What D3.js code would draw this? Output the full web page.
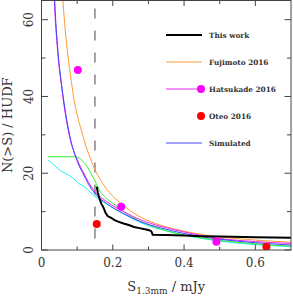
<!DOCTYPE html>
<html lang="en">
<head>
<meta charset="UTF-8">
<title>N(>S) / HUDF</title>
<script src="https://cdn.jsdelivr.net/npm/d3@7"></script>
<style>
  body { margin: 0; background: #fff; }
  svg text { font-family: "DejaVu Serif", serif; fill: #333; }
</style>
</head>
<body>
<svg id="chart" width="293" height="300"></svg>
<script>
// S in mJy, N(>S) per HUDF
var workS = [0.155, 0.158, 0.162, 0.165, 0.168, 0.172, 0.176, 0.18, 0.185, 0.19, 0.197, 0.205, 0.215, 0.23, 0.245, 0.26, 0.275, 0.29, 0.3, 0.308, 0.312, 0.35, 0.4, 0.45, 0.5, 0.6, 0.7];
var workN = [16.5, 15.0, 13.6, 12.8, 12.0, 11.4, 10.6, 9.6, 8.9, 8.6, 8.3, 7.8, 7.4, 6.9, 6.5, 6.0, 5.7, 5.4, 5.2, 4.9, 4.0, 3.9, 3.75, 3.6, 3.5, 3.35, 3.2];

var fujiS = [0.055, 0.06, 0.0866, 0.117, 0.145, 0.18, 0.2235, 0.277, 0.333, 0.4, 0.49, 0.6, 0.7];
var fujiN = [72, 65, 42, 29.5, 22, 16.2, 12.1, 8.6, 6.5, 4.9, 3.5, 2.6, 2.0];

var hatsS = [0.033, 0.036, 0.045, 0.057, 0.08, 0.1, 0.12, 0.136, 0.15, 0.183, 0.23, 0.277, 0.333, 0.4, 0.5, 0.6, 0.7];
var hatsN = [72, 65, 52, 42, 29, 23.6, 19.8, 17.0, 15.2, 12.6, 10.0, 7.9, 6.2, 4.7, 3.0, 2.2, 1.7];

var simS = [0.034, 0.037, 0.046, 0.058, 0.08, 0.1, 0.12, 0.136, 0.15, 0.183, 0.23, 0.277, 0.333, 0.4, 0.5, 0.6, 0.7];
var simN = [72, 65, 52, 42, 29.5, 23.2, 19.3, 16.5, 14.7, 12.1, 9.5, 7.4, 5.8, 4.3, 2.8, 1.9, 1.3];

var greenS = [0.018, 0.095, 0.105, 0.115, 0.125, 0.135, 0.15, 0.165, 0.18, 0.2, 0.25, 0.3, 0.35, 0.4, 0.5, 0.6, 0.7];
var greenN = [24.3, 24.3, 24.0, 23.2, 22.2, 20.6, 18.0, 15.2, 13.6, 12.2, 8.8, 6.6, 5.0, 3.9, 2.5, 1.6, 1.0];

var cyanS = [0.018, 0.03, 0.045, 0.06, 0.075, 0.09, 0.105, 0.12, 0.136, 0.15, 0.165, 0.2, 0.25, 0.3, 0.35, 0.4, 0.5, 0.6, 0.7];
var cyanN = [23.5, 22.6, 21.3, 20.3, 19.6, 18.6, 17.3, 16.5, 15.1, 14.0, 13.0, 11.0, 8.4, 6.3, 5.0, 3.9, 2.3, 1.4, 0.86];

var hatsPtS = [0.102, 0.2235, 0.4906];
var hatsPtN = [46.9, 11.25, 2.16];
var oteoS = [0.155, 0.631];
var oteoN = [6.75, 0.86];

var cutS = 0.15;

var xMajor = [0, 0.2, 0.4, 0.6];
var xMinor = [0.1, 0.3, 0.5];
var yMajor = [0, 20, 40, 60];
var yMinor = [10, 30, 50];

var legendNames = ["This work", "Fujimoto 2016", "Hatsukade 2016", "Oteo 2016", "Simulated"];

var svg = d3.select("#chart");
var padL = 41.5, padR = 291, padT = 0.5, padB = 250;

var x = d3.scaleLinear().domain([0, 0.7]).range([padL, padR]);
var y = d3.scaleLinear().domain([0, 65]).range([padB, padT]);

svg.append("clipPath").attr("id", "clip")
  .append("rect").attr("x", padL).attr("y", padT)
  .attr("width", padR - padL).attr("height", padB - padT);

var plot = svg.append("g").attr("clip-path", "url(#clip)");

function pairs(a, b) { return a.map(function(d, i) { return [d, b[i]]; }); }

var smooth = d3.line().x(function(d) { return x(d[0]); }).y(function(d) { return y(d[1]); })
  .curve(d3.curveMonotoneX);
var straight = d3.line().x(function(d) { return x(d[0]); }).y(function(d) { return y(d[1]); });

// dashed cut
plot.append("line")
  .attr("x1", x(cutS)).attr("x2", x(cutS))
  .attr("y1", padT).attr("y2", padB)
  .attr("stroke", "#444").attr("stroke-width", 1)
  .attr("stroke-dasharray", "10,12").attr("stroke-dashoffset", 14);

var curves = [
  [cyanS, cyanN, "#22eeee"],
  [greenS, greenN, "#33ee33"],
  [fujiS, fujiN, "#ff9933"],
  [hatsS, hatsN, "#ee22ee"],
  [simS, simN, "#4444ff"]
];
curves.forEach(function(c) {
  plot.append("path").attr("d", smooth(pairs(c[0], c[1])))
    .attr("fill", "none").attr("stroke", c[2]).attr("stroke-width", 1);
});

plot.append("path").attr("d", straight(pairs(workS, workN)))
  .attr("fill", "none").attr("stroke", "#000").attr("stroke-width", 2);

plot.selectAll(".hp").data(pairs(hatsPtS, hatsPtN)).enter().append("circle")
  .attr("cx", function(d) { return x(d[0]); }).attr("cy", function(d) { return y(d[1]); })
  .attr("r", 4).attr("fill", "#ff00ff");
plot.selectAll(".op").data(pairs(oteoS, oteoN)).enter().append("circle")
  .attr("cx", function(d) { return x(d[0]); }).attr("cy", function(d) { return y(d[1]); })
  .attr("r", 4).attr("fill", "#ff0000");

// frame and ticks
var axisColor = "#444";
svg.append("rect").attr("x", padL).attr("y", padT)
  .attr("width", padR - padL).attr("height", padB - padT)
  .attr("fill", "none").attr("stroke", axisColor).attr("stroke-width", 1);

function tickX(v, len) {
  svg.append("line").attr("x1", x(v)).attr("x2", x(v)).attr("y1", padB).attr("y2", padB - len)
    .attr("stroke", axisColor);
  svg.append("line").attr("x1", x(v)).attr("x2", x(v)).attr("y1", padT).attr("y2", padT + len)
    .attr("stroke", axisColor);
}
function tickY(v, len) {
  svg.append("line").attr("y1", y(v)).attr("y2", y(v)).attr("x1", padL).attr("x2", padL + len)
    .attr("stroke", axisColor);
  svg.append("line").attr("y1", y(v)).attr("y2", y(v)).attr("x1", padR).attr("x2", padR - len)
    .attr("stroke", axisColor);
}
xMajor.forEach(function(v) { tickX(v, 5.5); });
xMinor.forEach(function(v) { tickX(v, 3.5); });
yMajor.forEach(function(v) { tickY(v, 6.5); });
yMinor.forEach(function(v) { tickY(v, 4); });

svg.selectAll(".xl").data(xMajor).enter().append("text")
  .attr("x", function(d) { return x(d); }).attr("y", 267)
  .attr("text-anchor", "middle").attr("font-size", 12)
  .text(function(d) { return d === 0 ? "0" : d3.format(".1f")(d); });

svg.selectAll(".yl").data(yMajor).enter().append("text")
  .attr("transform", function(d) { return "translate(33," + y(d) + ") rotate(-90)"; })
  .attr("text-anchor", "middle").attr("font-size", 12)
  .text(function(d) { return d; });

var xt = svg.append("text").attr("x", (padL + padR) / 2).attr("y", 291)
  .attr("text-anchor", "middle").attr("font-size", 13);
xt.append("tspan").text("S");
xt.append("tspan").attr("font-size", 9).attr("dy", 3).text("1.3mm");
xt.append("tspan").attr("dy", -3).text(" / mJy");

svg.append("text").attr("transform", "translate(12," + (padB + padT) / 2 + ") rotate(-90)")
  .attr("text-anchor", "middle").attr("font-size", 13)
  .text("N(>S) / HUDF");

// legend
var legColors = ["#000", "#ff9933", "#ee22ee", null, "#4444ff"];
var rowY = [35, 62, 89, 116, 143];
var lg = svg.append("g");
legendNames.forEach(function(name, i) {
  var yy = rowY[i];
  if (legColors[i]) {
    lg.append("line").attr("x1", 166).attr("x2", 202).attr("y1", yy).attr("y2", yy)
      .attr("stroke", legColors[i]).attr("stroke-width", i === 0 ? 2 : 1);
  }
  if (i === 2 || i === 3) {
    lg.append("circle").attr("cx", 201).attr("cy", yy).attr("r", 4)
      .attr("fill", i === 2 ? "#ff00ff" : "#ff0000");
  }
  lg.append("text").attr("x", 209).attr("y", yy + 2.5)
    .attr("font-size", 7.3).attr("font-weight", "bold").attr("fill", "#222")
    .text(name);
});
</script>
</body>
</html>
